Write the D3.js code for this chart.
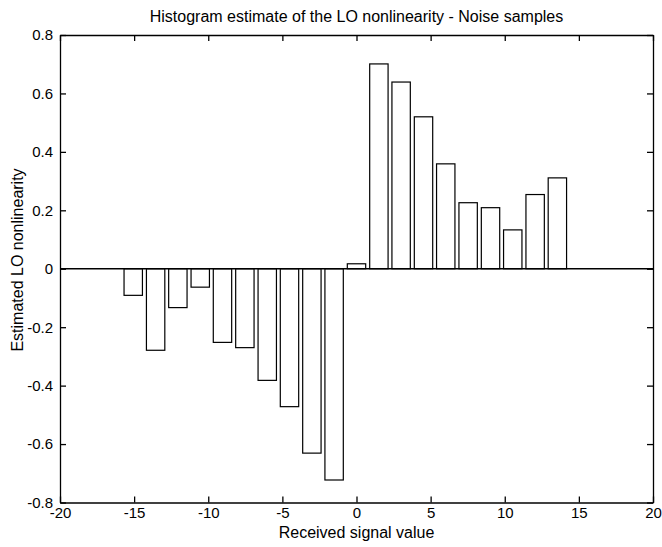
<!DOCTYPE html>
<html>
<head>
<meta charset="utf-8">
<style>
  body { margin: 0; background: #fff; }
  svg { font-family: "Liberation Sans", Arial, Helvetica, sans-serif; }
</style>
</head>
<body>
<svg width="662" height="547"></svg>
<script src="https://d3js.org/d3.v7.min.js"></script>
<script>

	// Bin centres and histogram estimates.
	var binCenters = [-15.06, -13.55, -12.05, -10.54, -9.04, -7.53, -6.02, -4.52, -3.01, -1.51,
		0, 1.51, 3.01, 4.52, 6.02, 7.53, 9.04, 10.54, 12.05, 13.55];
	var estimates = [-0.091, -0.279, -0.133, -0.063, -0.252, -0.270, -0.382, -0.472, -0.631, -0.723,
		0.017, 0.701, 0.639, 0.520, 0.359, 0.226, 0.209, 0.133, 0.254, 0.311];
	var xTicks = [-20, -15, -10, -5, 0, 5, 10, 15, 20];
	var yTicks = [-0.8, -0.6, -0.4, -0.2, 0, 0.2, 0.4, 0.6, 0.8];
	var barWidth = 1.24;

	var svg = d3.select("svg"),
		plotLeft = 60, plotRight = 653, plotTop = 35, plotBottom = 502.5,
		tickLen = 6;

	var x = d3.scaleLinear().domain([-20, 20]).range([plotLeft, plotRight]);
	var y = d3.scaleLinear().domain([-0.8, 0.8]).range([plotBottom, plotTop]);

	var data = binCenters.map(function(c, i) { return {c: c, v: estimates[i]}; });

	// Bars.
	svg.append("g").selectAll("rect")
		.data(data)
		.enter().append("rect")
			.attr("x", function(d) { return x(d.c - barWidth / 2); })
			.attr("width", function(d) { return x(barWidth) - x(0); })
			.attr("y", function(d) { return y(Math.max(d.v, 0)); })
			.attr("height", function(d) { return Math.abs(y(d.v) - y(0)); })
			.style("fill", "white")
			.style("stroke", "black")
			.style("stroke-width", 1.2);

	// Baseline at zero.
	svg.append("line")
		.attr("x1", x(-20)).attr("x2", x(20))
		.attr("y1", y(0)).attr("y2", y(0))
		.style("stroke", "black").style("stroke-width", 1.4);

	// Axes, ticks pointing inward, box on.
	var axB = d3.axisBottom(x).tickValues(xTicks).tickSizeInner(-tickLen).tickSizeOuter(0).tickPadding(5)
		.tickFormat(d3.format("d"));
	var axT = d3.axisTop(x).tickValues(xTicks).tickSizeInner(-tickLen).tickSizeOuter(0).tickFormat("");
	var axL = d3.axisLeft(y).tickValues(yTicks).tickSizeInner(-tickLen).tickSizeOuter(0).tickPadding(7)
		.tickFormat(function(d) { return d === 0 ? "0" : d3.format(".1f")(d); });
	var axR = d3.axisRight(y).tickValues(yTicks).tickSizeInner(-tickLen).tickSizeOuter(0).tickFormat("");

	function styleAxis(g) {
		g.selectAll("path, line").style("stroke", "black").style("stroke-width", 1.3);
		g.selectAll("text").style("font-size", "15px").style("fill", "black")
			.style("font-family", "'Liberation Sans', Arial, sans-serif")
			.text(function() { return this.textContent.replace("\u2212", "-"); });
	}

	svg.append("g").attr("transform", "translate(0," + plotBottom + ")").call(axB).call(styleAxis);
	svg.append("g").attr("transform", "translate(0," + plotTop + ")").call(axT).call(styleAxis);
	svg.append("g").attr("transform", "translate(" + plotLeft + ",0)").call(axL).call(styleAxis);
	svg.append("g").attr("transform", "translate(" + plotRight + ",0)").call(axR).call(styleAxis);

	// Titles.
	svg.append("text")
		.attr("x", (plotLeft + plotRight) / 2).attr("y", 22)
		.attr("text-anchor", "middle")
		.style("font-size", "16px")
		.text("Histogram estimate of the LO nonlinearity - Noise samples");

	svg.append("text")
		.attr("x", (plotLeft + plotRight) / 2).attr("y", 538)
		.attr("text-anchor", "middle")
		.style("font-size", "16px")
		.text("Received signal value");

	svg.append("text")
		.attr("transform", "translate(23," + 260 + ") rotate(-90)")
		.attr("text-anchor", "middle")
		.style("font-size", "16px")
		.text("Estimated LO nonlinearity");

</script>
</body>
</html>
